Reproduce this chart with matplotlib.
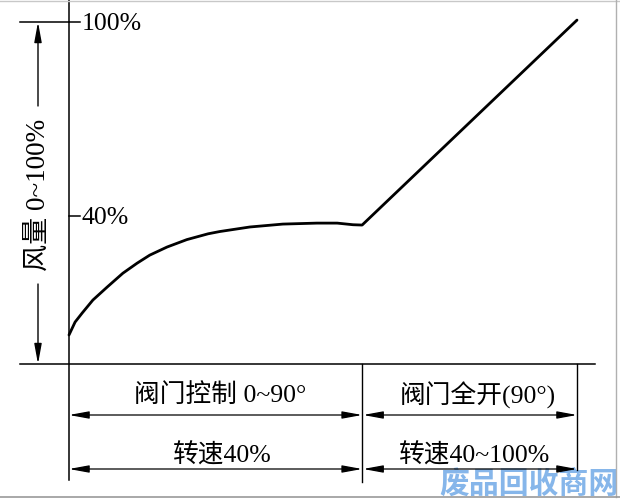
import matplotlib
matplotlib.use("Agg")
import matplotlib.pyplot as plt

# ---------------- data ----------------
# x: relative fan-speed / valve travel position (0 = start, 100 = end)
# y: air volume in %
curve_x = [0, 1.2, 2.6, 4.7, 7.5, 10.6, 13.4, 15.9, 19.3, 23.2, 27.4, 29.7,
           35.6, 42.1, 48.8, 52.8, 55.9, 57.7, 100]
curve_y = [3.2, 7.2, 10.0, 14.0, 18.0, 22.3, 25.4, 27.9, 30.4, 32.7, 34.5, 35.2,
           36.6, 37.5, 37.8, 37.8, 37.3, 37.2, 100.6]
knee_x = 57.7
y_ticks = [100, 40]
y_tick_labels = ["100%", "40%"]
y_label = "风量 0~100%"
row1_labels = ["阀门控制 0~90°", "阀门全开(90°)"]
row2_labels = ["转速40%", "转速40~100%"]
watermark = "废品回收商网"

# ---------------- layout helpers (pixel -> data) ----------------
W, H = 620, 500
X0PX, XSCALE = 69, 5.08          # px of x=0, px per unit
Y40PX, YSCALE = 216, 3.233       # px of y=40, px per %


def dx(px):
    return (px - X0PX) / XSCALE


def dy(py):
    return 40 + (Y40PX - py) / YSCALE


FONT = ["Liberation Serif", "Noto Sans CJK SC", "DejaVu Sans"]
plt.rcParams["font.family"] = FONT

fig = plt.figure(figsize=(W / 100, H / 100), dpi=100)
ax = fig.add_axes([0, 0, 1, 1])
ax.set_xlim(dx(0), dx(W))
ax.set_ylim(dy(H), dy(0))
ax.axis("off")

K = "black"
base_y = dy(364)
row1_y = dy(415)
row2_y = dy(469)
end_x = 100

# curve
ax.plot(curve_x, curve_y, color=K, lw=2.0, solid_joinstyle="round",
        solid_capstyle="round", zorder=5)

# vertical axis (extends down through annotation rows)
ax.plot([0, 0], [dy(0), dy(480)], color=K, lw=1.1)
# baseline
ax.plot([dx(20), dx(595)], [base_y, base_y], color=K, lw=1.1)
# middle and right dividers
ax.plot([knee_x, knee_x], [base_y, dy(482)], color=K, lw=1.0)
ax.plot([end_x, end_x], [base_y, dy(470)], color=K, lw=1.0)

# ticks and labels
for v, lab in zip(y_ticks, y_tick_labels):
    ax.plot([0, dx(80)], [v, v], color=K, lw=1.1)
    ax.text(dx(82), v - 0.7, lab, fontsize=18.5, va="center", ha="left",
            family=FONT)
# extension line at 100%
ax.plot([dx(20), 0], [100, 100], color=K, lw=1.1)

# left dimension arrow for air volume
arr_x = dx(38)
aprops = dict(arrowstyle="-|>,head_length=1.2,head_width=0.22", color=K,
              lw=1.0, shrinkA=0, shrinkB=0)
ax.annotate("", xy=(arr_x, 100), xytext=(arr_x, dy(106)), arrowprops=aprops)
ax.annotate("", xy=(arr_x, base_y), xytext=(arr_x, dy(284)), arrowprops=aprops)
ax.text(arr_x, dy(195), y_label, rotation=90, fontsize=19.5, ha="center",
        va="center", family=FONT)

# bottom dimension rows
dprops = dict(arrowstyle="<|-|>,head_length=1.2,head_width=0.22", color=K,
              lw=0.9, shrinkA=0, shrinkB=0)
segments = [(0, knee_x), (knee_x + 0.2, end_x)]
for yrow in (row1_y, row2_y):
    for a, b in segments:
        ax.annotate("", xy=(a, yrow), xytext=(b, yrow), arrowprops=dprops)

ax.text(dx(220), dy(395), row1_labels[0], fontsize=18.5, ha="center",
        va="center", family=FONT)
ax.text(dx(478), dy(395), row1_labels[1], fontsize=18.5, ha="center",
        va="center", family=FONT)
ax.text(dx(222), dy(455), row2_labels[0], fontsize=18.5, ha="center",
        va="center", family=FONT)
ax.text(dx(475), dy(455), row2_labels[1], fontsize=18.5, ha="center",
        va="center", family=FONT)

# watermark
ax.text(dx(439), dy(499), watermark, fontsize=21.5, ha="left", va="bottom",
        color="#86b6ea", fontweight="bold",
        family=["Noto Sans CJK SC", "DejaVu Sans"], zorder=1)

# image frame lines (gray)
ax.plot([dx(0), dx(620)], [dy(0.5), dy(0.5)], color="#c8c8c8", lw=1.0)
ax.plot([dx(616), dx(616)], [dy(0), dy(497)], color="#b0b0b0", lw=1.0)
ax.plot([dx(0), dx(620)], [dy(497), dy(497)], color="#9a9a9a", lw=1.2)

fig.savefig("out.png", dpi=100)
